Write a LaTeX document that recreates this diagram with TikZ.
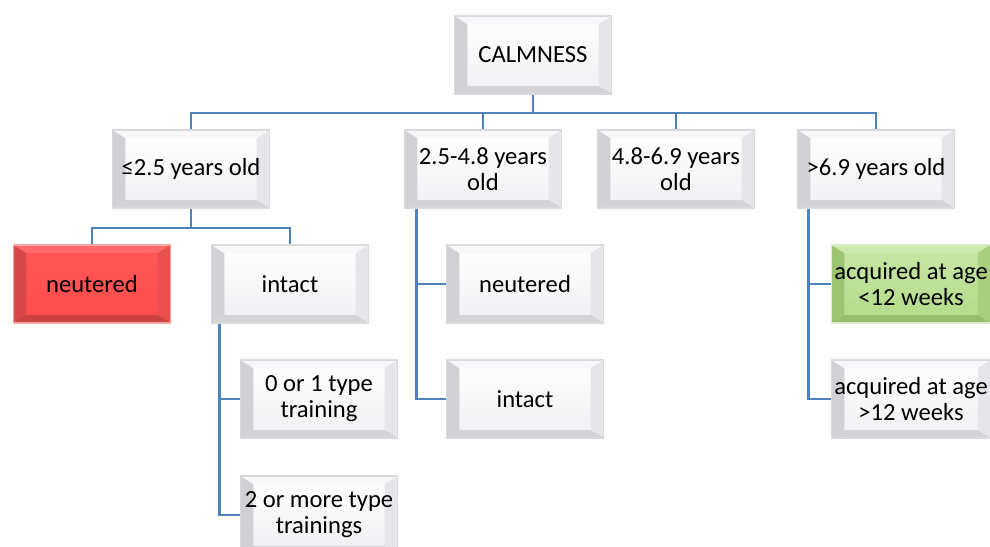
\documentclass[tikz,border=0pt]{standalone}
\usepackage{fontspec}
\setmainfont{Carlito}
\definecolor{linkblue}{HTML}{4F81BD}
\definecolor{rimgray}{HTML}{D9D9DC}
\definecolor{F0F0F3}{HTML}{F0F0F3}
\definecolor{D0D0D5}{HTML}{D0D0D5}
\definecolor{F8F8FA}{HTML}{F8F8FA}
\definecolor{E6E6EA}{HTML}{E6E6EA}
\definecolor{D3D3D8}{HTML}{D3D3D8}
\definecolor{FF5757}{HTML}{FF5757}
\definecolor{FF4C4C}{HTML}{FF4C4C}
\definecolor{D84848}{HTML}{D84848}
\definecolor{FF6A6A}{HTML}{FF6A6A}
\definecolor{EA5050}{HTML}{EA5050}
\definecolor{C94343}{HTML}{C94343}
\definecolor{F4A6A6}{HTML}{F4A6A6}
\definecolor{C6E4A2}{HTML}{C8E6A6}
\definecolor{AAD47C}{HTML}{B3DA88}
\definecolor{95BD6A}{HTML}{9CC472}
\definecolor{CBE8A8}{HTML}{CDE9AD}
\definecolor{A3CA76}{HTML}{A8CE7E}
\definecolor{8FB762}{HTML}{95BD6A}
\definecolor{DCEBCB}{HTML}{DCEBCB}
\tikzset{
  conn/.style={draw=linkblue, line width=2.1pt},
  % bevelled box: face top, face bottom, left, top, right, bottom bevel colours, rim
  bevelbox/.style n args={7}{
    minimum width=3.925cm, minimum height=1.95cm, inner sep=2pt,
    align=center, font=\fontsize{17.5}{18.5}\selectfont,
    draw=#7, line width=1.2pt, top color=#1, bottom color=#2,
    path picture={
      \path (path picture bounding box.north west) coordinate (bNW)
            (path picture bounding box.north east) coordinate (bNE)
            (path picture bounding box.south west) coordinate (bSW)
            (path picture bounding box.south east) coordinate (bSE);
      \fill[#3] (bNW) -- ([shift={(0.32cm,-0.2cm)}]bNW) -- ([shift={(0.32cm,0.2cm)}]bSW) -- (bSW) -- cycle;
      \fill[#4] (bNW) -- (bNE) -- ([shift={(-0.32cm,-0.2cm)}]bNE) -- ([shift={(0.32cm,-0.2cm)}]bNW) -- cycle;
      \fill[#5] (bNE) -- (bSE) -- ([shift={(-0.32cm,0.2cm)}]bSE) -- ([shift={(-0.32cm,-0.2cm)}]bNE) -- cycle;
      \fill[#6] (bSW) -- ([shift={(0.32cm,0.2cm)}]bSW) -- ([shift={(-0.32cm,0.2cm)}]bSE) -- (bSE) -- cycle;
    }},
  plainbox/.style={bevelbox={white}{F0F0F3}{D0D0D5}{F8F8FA}{E6E6EA}{D3D3D8}{rimgray}},
  redbox/.style={bevelbox={FF5757}{FF4C4C}{D84848}{FF6A6A}{EA5050}{C94343}{F4A6A6}},
  greenbox/.style={bevelbox={C6E4A2}{AAD47C}{95BD6A}{CBE8A8}{A3CA76}{8FB762}{DCEBCB}},
}
\begin{document}
\begin{tikzpicture}[x=0.025cm,y=-0.025cm]
\useasboundingbox (0,0) rectangle (990,546);
\fill[white] (0,0) rectangle (990,546);

% root and age groups
\node[plainbox] (calm) at (533,55) {CALMNESS};
\node[plainbox] (a1) at (191,169) {≤2.5 years old};
\node[plainbox] (a2) at (483,169) {2.5-4.8 years\\old};
\node[plainbox] (a3) at (676,169) {4.8-6.9 years\\old};
\node[plainbox] (a4) at (876,169) {>6.9 years old};

% second level
\node[redbox]   (n1) at (92,284)  {neutered};
\node[plainbox] (i1) at (290,284) {intact};
\node[plainbox] (n2) at (525,284) {neutered};
\node[plainbox] (i2) at (525,399) {intact};
\node[greenbox] (g1) at (911,284) {acquired at age\\<12 weeks};
\node[plainbox] (g2) at (911,399) {acquired at age\\>12 weeks};

% third level
\node[plainbox] (t1) at (319,399) {0 or 1 type\\training};
\node[plainbox] (t2) at (319,515) {2 or more type\\trainings};

% connectors
\coordinate (bus0) at (533,113);
\draw[conn] (calm.south) -- (bus0);
\draw[conn] (a1.north) |- (bus0);
\draw[conn] (a4.north) |- (bus0);
\draw[conn] (a2.north) -- (a2.north |- bus0);
\draw[conn] (a3.north) -- (a3.north |- bus0);

\coordinate (bus1) at (191,228);
\draw[conn] (a1.south) -- (bus1);
\draw[conn] (n1.north) |- (bus1);
\draw[conn] (i1.north) |- (bus1);

\coordinate (s2) at ([xshift=0.325cm]a2.south west);
\draw[conn] (s2) |- (i2.west);
\draw[conn] (s2 |- n2.west) -- (n2.west);

\coordinate (s4) at ([xshift=0.3cm]a4.south west);
\draw[conn] (s4) |- (g2.west);
\draw[conn] (s4 |- g1.west) -- (g1.west);

\coordinate (si) at ([xshift=0.225cm]i1.south west);
\draw[conn] (si) |- (t2.west);
\draw[conn] (si |- t1.west) -- (t1.west);
\end{tikzpicture}
\end{document}
